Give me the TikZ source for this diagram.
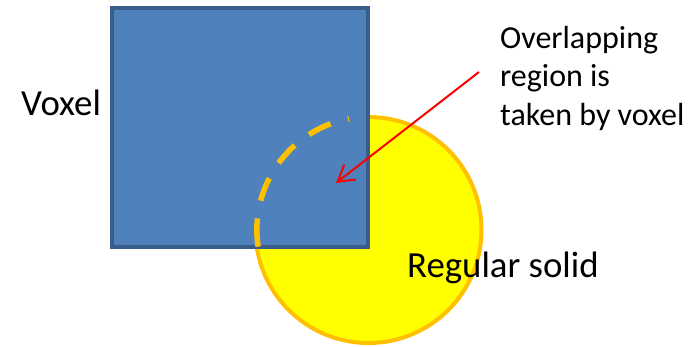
\documentclass[tikz,border=0pt]{standalone}
\usepackage{fontspec}
\setmainfont{Carlito}
\usetikzlibrary{arrows.meta}
\definecolor{vfill}{HTML}{4F81BD}
\definecolor{vdraw}{HTML}{385D8A}
\definecolor{sfill}{HTML}{FFFF00}
\definecolor{sdraw}{HTML}{FFC000}
\tikzset{
  lbl/.style={font=\fontsize{32}{38}\selectfont, inner sep=0pt, anchor=base west, align=left},
  biglbl/.style={lbl, font=\fontsize{36.8}{44}\selectfont},
  solid shape/.style={circle, draw=sdraw, fill=sfill, line width=4pt, minimum size=226pt, outer sep=0pt, inner sep=0pt},
  voxel shape/.style={rectangle, draw=vdraw, fill=vfill, line width=4pt, minimum width=256pt, minimum height=239pt, outer sep=0pt, inner sep=0pt},
  overlap/.style={draw=sdraw, line width=5.5pt, dash pattern=on 1pt off 18pt on 24pt off 18pt on 24pt off 18pt on 24pt off 18pt on 40pt},
  pointer/.style={draw=red, line width=2pt, -{Straight Barb[length=16pt,width=19pt,line width=2pt]}}
}
\begin{document}
\begin{tikzpicture}[x=1pt,y=-1pt]
\useasboundingbox (0,0) rectangle (689,346);
\node[solid shape] (sol) at (368.5,230) {};
\node[voxel shape] (vox) at (240,127.5) {};
\draw[overlap] (sol.100.7) arc[start angle=100.7, end angle=188.6, radius=113pt];
\coordinate (ptail) at (479,72);
\coordinate (phead) at (336,183);
\draw[pointer] (ptail) -- (phead);
\node[biglbl] (vlab) at (21,115.7) {Voxel};
\node[biglbl] (slab) at (407,277) {Regular solid};
\node[lbl] (olab1) at (500,48) {Overlapping};
\node[lbl] (olab2) at (500,86.5) {region is};
\node[lbl] (olab3) at (500,125) {taken by voxel};
\end{tikzpicture}
\end{document}
